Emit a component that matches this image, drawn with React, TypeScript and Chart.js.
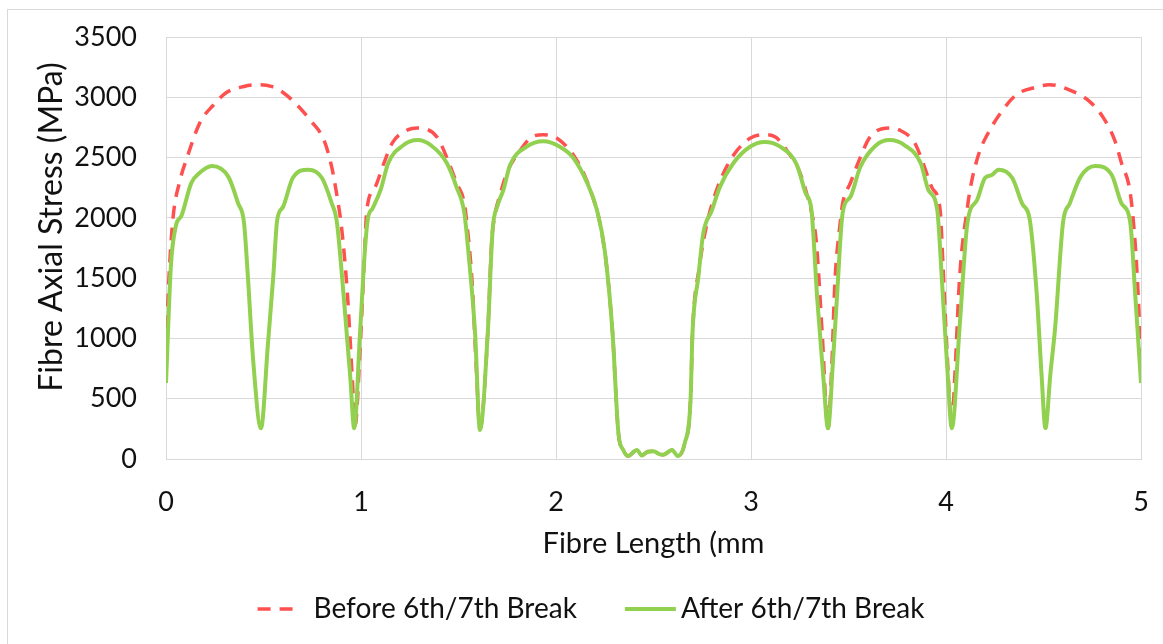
import React, { useEffect, useRef } from "react";
import { Chart, registerables } from "chart.js";

Chart.register(...registerables);

// ---------- data ----------
const seriesLabels = ["Before 6th/7th Break", "After 6th/7th Break"];
const xTitle = "Fibre Length (mm";
const yTitle = "Fibre Axial Stress (MPa)";
const xTickValues = [0, 1, 2, 3, 4, 5];
const yTickValues = [0, 500, 1000, 1500, 2000, 2500, 3000, 3500];

const beforeX = [
  0, 0.015, 0.036, 0.07, 0.108, 0.174, 0.24, 0.31, 0.4, 0.47, 0.54, 0.6, 0.67, 0.74, 0.81, 0.85, 0.88, 0.9, 0.93,
  0.955, 0.97, 0.995, 1.015, 1.03, 1.07, 1.12, 1.16, 1.24, 1.29, 1.39, 1.44, 1.49, 1.53, 1.545, 1.57, 1.59, 1.61,
  1.65, 1.67, 1.69, 1.71, 1.75, 1.81, 1.875, 1.935, 2.005, 2.09, 2.15, 2.19, 2.225, 2.26, 2.29, 2.32, 2.345, 2.37,
  2.415, 2.44, 2.47, 2.5, 2.53, 2.55, 2.595, 2.625, 2.66, 2.69, 2.7, 2.735, 2.775, 2.81, 2.85, 2.91, 2.995, 3.065,
  3.125, 3.19, 3.25, 3.29, 3.31, 3.335, 3.365, 3.395, 3.415, 3.43, 3.455, 3.47, 3.51, 3.56, 3.61, 3.71, 3.76, 3.84,
  3.88, 3.93, 3.97, 3.985, 4.005, 4.03, 4.045, 4.07, 4.11, 4.13, 4.17, 4.215, 4.28, 4.36, 4.465, 4.53, 4.635, 4.74,
  4.805, 4.865, 4.9, 4.945, 4.97, 4.985, 5.0,
];
const beforeY = [
  900, 1500, 2000, 2300, 2500, 2790, 2930, 3040, 3090, 3105, 3090, 3040, 2940, 2810, 2645, 2420, 2150, 1925, 1375,
  680, 280, 900, 1590, 2065, 2245, 2465, 2620, 2730, 2745, 2670, 2500, 2290, 2120, 1925, 1460, 800, 250,
  1045, 1800, 2050, 2175, 2380, 2545, 2670, 2690, 2660, 2520, 2340, 2165, 1960, 1590, 1045, 215, 75, 25,
  75, 30, 60, 65, 40, 35, 75, 25, 130, 490, 1045, 1590, 1960, 2165, 2340, 2520, 2660, 2690,
  2670, 2545, 2380, 2175, 2050, 1800, 1045, 255, 800, 1460, 1925, 2120, 2290, 2500, 2670, 2745, 2730, 2620,
  2465, 2245, 2065, 1590, 900, 280, 680, 1510, 2090, 2290, 2540, 2700, 2870, 3020, 3085, 3105, 3060, 2960,
  2835, 2645, 2455, 2205, 1790, 1375, 820,
];

const afterX = [
  0, 0.025, 0.05, 0.08, 0.13, 0.17, 0.235, 0.32, 0.37, 0.4, 0.42, 0.447, 0.487, 0.523, 0.55, 0.57, 0.6, 0.65, 0.73,
  0.8, 0.85, 0.875, 0.91, 0.945, 0.965, 0.995, 1.02, 1.035, 1.06, 1.1, 1.14, 1.215, 1.29, 1.36, 1.44, 1.49, 1.53,
  1.55, 1.585, 1.61, 1.65, 1.675, 1.7, 1.73, 1.765, 1.85, 1.935, 2.02, 2.09, 2.16, 2.21, 2.25, 2.29, 2.32, 2.345,
  2.37, 2.415, 2.44, 2.47, 2.5, 2.53, 2.55, 2.595, 2.625, 2.66, 2.69, 2.7, 2.73, 2.755, 2.8, 2.84, 2.91, 2.995,
  3.07, 3.15, 3.235, 3.28, 3.31, 3.34, 3.37, 3.395, 3.42, 3.44, 3.47, 3.51, 3.56, 3.64, 3.71, 3.79, 3.87, 3.91,
  3.955, 3.98, 4.005, 4.03, 4.07, 4.11, 4.16, 4.2, 4.235, 4.27, 4.34, 4.39, 4.43, 4.465, 4.49, 4.51, 4.535, 4.56,
  4.6, 4.635, 4.69, 4.765, 4.85, 4.9, 4.945, 4.97, 5.0,
];
const afterY = [
  630, 1600, 1930, 2020, 2290, 2370, 2430, 2340, 2120, 1960, 1510, 820, 255, 960, 1510, 1980, 2090, 2330, 2400,
  2330, 2120, 1980, 1375, 680, 255, 1045, 1730, 1990, 2080, 2230, 2455, 2600, 2645, 2600, 2455, 2255, 2040,
  1730, 1045, 240, 1045, 1900, 2100, 2230, 2440, 2590, 2635, 2590, 2495, 2290, 2065, 1730, 1045, 215, 75,
  25, 75, 30, 60, 65, 40, 35, 75, 25, 130, 490, 1045, 1510, 1870, 2065, 2255, 2455, 2590,
  2630, 2590, 2440, 2205, 2065, 1320, 700, 255, 800, 1320, 2040, 2175, 2420, 2600, 2645, 2600, 2455, 2230,
  2065, 1460, 800, 255, 1100, 1960, 2150, 2330, 2355, 2400, 2330, 2120, 1980, 1375, 700, 255, 700, 1095,
  1960, 2120, 2340, 2430, 2355, 2120, 1960, 1375, 630,
];

// ---------- styling ----------
const FONT = "Lato, 'Open Sans', sans-serif";
const TEXT_COLOR = "#111111";
const GRID_COLOR = "#d9d9d9";
const RED = "#ff5050";
const GREEN = "#92d050";

const toPoints = (xs: number[], ys: number[]) => xs.map((x, i) => ({ x, y: ys[i] }));

export default function App() {
  const canvasRef = useRef<HTMLCanvasElement>(null);

  useEffect(() => {
    if (!canvasRef.current) return;

    const legendPlugin = {
      id: "excelLegend",
      afterDraw(chart: any) {
        const ctx = chart.ctx as CanvasRenderingContext2D;
        const sampleW = [37, 51];
        const sampleGap = [19, 5];
        const itemGap = 48;
        const cy = 609;
        const centerX = 591;
        ctx.save();
        ctx.font = `28px ${FONT}`;
        const widths = chart.data.datasets.map(
          (ds: any, i: number) => sampleW[i] + sampleGap[i] + ctx.measureText(ds.label).width
        );
        const total = widths.reduce((a: number, b: number) => a + b, 0) + itemGap * (widths.length - 1);
        let x = centerX - total / 2;
        chart.data.datasets.forEach((ds: any, i: number) => {
          ctx.beginPath();
          ctx.strokeStyle = ds.borderColor;
          ctx.lineWidth = ds.borderWidth;
          ctx.setLineDash(ds.borderDash || []);
          ctx.lineCap = "butt";
          ctx.moveTo(x, cy);
          ctx.lineTo(x + sampleW[i], cy);
          ctx.stroke();
          ctx.setLineDash([]);
          ctx.fillStyle = TEXT_COLOR;
          ctx.textBaseline = "middle";
          ctx.textAlign = "left";
          ctx.fillText(ds.label, x + sampleW[i] + sampleGap[i], cy);
          x += widths[i] + itemGap;
        });

        // y axis title (Excel centres it a little above the plot middle)
        ctx.save();
        ctx.translate(52, 227);
        ctx.rotate(-Math.PI / 2);
        ctx.font = `32px ${FONT}`;
        ctx.textAlign = "center";
        ctx.textBaseline = "middle";
        ctx.fillStyle = TEXT_COLOR;
        ctx.fillText(yTitle, 0, 0);
        ctx.restore();

        ctx.restore();
      },
    };

    const chart = new Chart(canvasRef.current, {
      type: "line",
      data: {
        datasets: [
          {
            label: seriesLabels[0],
            data: toPoints(beforeX, beforeY),
            borderColor: RED,
            backgroundColor: RED,
            borderWidth: 3.5,
            borderDash: [13, 9],
            pointRadius: 0,
            cubicInterpolationMode: "monotone",
            fill: false,
            order: 2,
          },
          {
            label: seriesLabels[1],
            data: toPoints(afterX, afterY),
            borderColor: GREEN,
            backgroundColor: GREEN,
            borderWidth: 4,
            pointRadius: 0,
            cubicInterpolationMode: "monotone",
            fill: false,
            order: 1,
          },
        ],
      },
      options: {
        responsive: false,
        animation: false,
        devicePixelRatio: 1,
        layout: { padding: { top: 37, left: 0, right: 22, bottom: 75 } },
        plugins: {
          legend: { display: false },
          tooltip: { enabled: false },
        },
        scales: {
          x: {
            type: "linear",
            min: 0,
            max: 5,
            afterBuildTicks: (s: any) => {
              s.ticks = xTickValues.map((v) => ({ value: v }));
            },
            afterFit: (s: any) => {
              s.height = 110;
            },
            ticks: {
              padding: 0,
              color: TEXT_COLOR,
              font: { family: FONT, size: 27 },
              callback: (v: any) => String(v),
              maxRotation: 0,
            },
            grid: {
              color: GRID_COLOR,
              lineWidth: 1,
              drawTicks: true,
              tickLength: 27,
              tickColor: "rgba(0,0,0,0)",
            },
            border: { display: true, color: GRID_COLOR },
            title: {
              display: true,
              text: xTitle,
              color: TEXT_COLOR,
              font: { family: FONT, size: 29 },
              padding: { top: 0, bottom: 8 },
            },
          },
          y: {
            type: "linear",
            min: 0,
            max: 3500,
            afterBuildTicks: (s: any) => {
              s.ticks = yTickValues.map((v) => ({ value: v }));
            },
            afterFit: (s: any) => {
              s.width = 166;
            },
            ticks: {
              padding: 0,
              color: TEXT_COLOR,
              font: { family: FONT, size: 27 },
              callback: (v: any) => String(v),
            },
            grid: {
              color: GRID_COLOR,
              lineWidth: 1,
              drawTicks: true,
              tickLength: 29,
              tickColor: "rgba(0,0,0,0)",
            },
            border: { display: true, color: GRID_COLOR },
            title: { display: false, text: yTitle },
          },
        },
      },
      plugins: [legendPlugin],
    } as any);

    return () => chart.destroy();
  }, []);

  return (
    <div
      style={{
        position: "fixed",
        left: 0,
        top: 0,
        width: 1163,
        height: 644,
        overflow: "hidden",
        background: "#ffffff",
      }}
    >
      <div
        style={{
          position: "absolute",
          left: 7,
          top: 9,
          width: 2000,
          height: 2000,
          borderLeft: `1px solid ${GRID_COLOR}`,
          borderTop: `1px solid ${GRID_COLOR}`,
        }}
      />
      <canvas
        ref={canvasRef}
        width={1163}
        height={644}
        style={{ position: "absolute", left: 0, top: 0, width: 1163, height: 644 }}
      />
    </div>
  );
}
